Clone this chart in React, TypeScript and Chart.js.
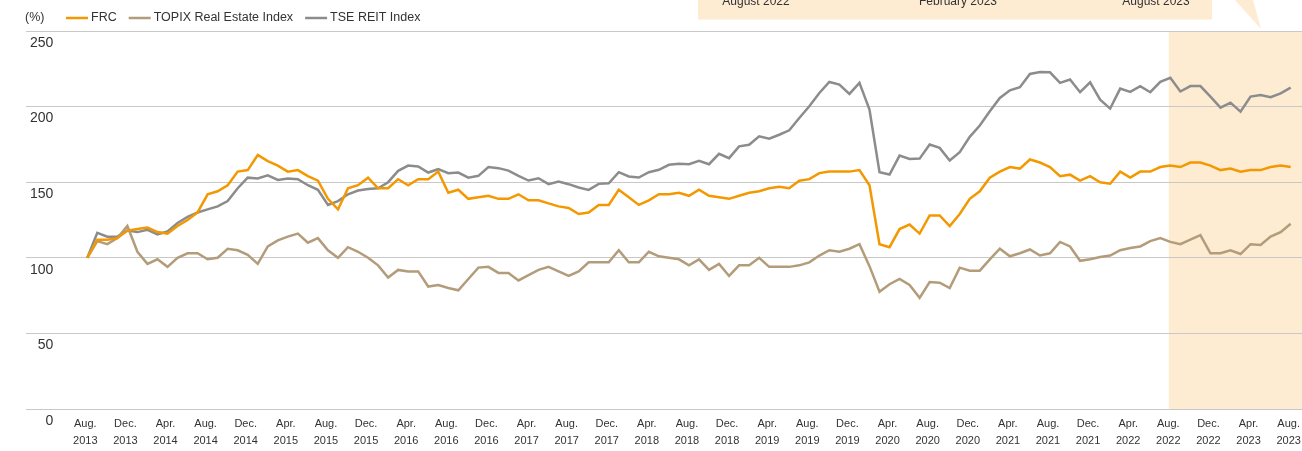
import React, { useEffect, useRef } from "react";
import { Chart, registerables } from "chart.js";

Chart.register(...registerables);

// Monthly values, Aug 2013 (index 0) to Aug 2023 (index 120), Aug 2013 = 100
const frcValues = [
  100, 112, 112, 113, 118, 119, 120, 117, 116, 121, 125, 130, 142, 144, 148, 157, 158, 168, 164, 161,
  157, 158, 154, 151, 139, 132, 146, 148, 153, 146, 146, 152, 148, 152, 152, 157, 143, 145, 139, 140,
  141, 139, 139, 142, 138, 138, 136, 134, 133, 129, 130, 135, 135, 145, 140, 135, 138, 142, 142, 143,
  141, 145, 141, 140, 139, 141, 143, 144, 146, 147, 146, 151, 152, 156, 157, 157, 157, 158, 148, 109,
  107, 119, 122, 116, 128, 128, 121, 129, 139, 144, 153, 157, 160, 159, 165, 163, 160, 154, 155, 151,
  154, 150, 149, 157, 153, 157, 157, 160, 161, 160, 163, 163, 161, 158, 159, 157, 158, 158, 160, 161,
  160,
];

const topixValues = [
  100, 111, 109, 113, 121, 104, 96, 99, 94, 100, 103, 103, 99, 100, 106, 105, 102, 96, 107.5, 111.5,
  114, 116, 110, 113, 105, 100, 107, 104, 100, 95, 87, 92, 91, 91, 81, 82, 80, 78.5, 86, 93.5,
  94, 90, 90, 85, 88.5, 92, 94, 91, 88, 91, 97, 97, 97, 105, 97, 97, 104, 101, 100, 99,
  95, 99, 92, 96, 88, 95, 95, 100, 94, 94, 94, 95, 97, 101.5, 105, 104, 106, 109, 94.5, 77.5,
  82.5, 86, 82, 73.5, 84, 83.5, 80, 93.5, 91.5, 91.5, 99, 106, 101, 103, 105.5, 101.5, 103, 110.5, 107.5, 98,
  99, 100.5, 101.5, 105, 106.5, 107.5, 111, 113, 110.5, 109, 112, 115, 103, 103, 105, 102.5, 109, 108.5, 114, 117,
  122.5,
];

const tseReitValues = [
  100, 116.5, 114, 114, 118, 117, 118.5, 115.5, 117.5, 123, 127, 130, 132, 134, 137.5, 146, 153, 152.5, 154.5, 151.5,
  152.5, 152, 148, 145, 135, 137.5, 142, 144.5, 145.5, 146, 150, 157.5, 161, 160.4, 156.4, 158.6, 156, 156.4, 153, 154.2,
  160, 159.3, 157.7, 154.2, 151.1, 152.6, 148.7, 150.4, 148.7, 146.5, 144.9, 148.9, 149.3, 156.6, 153.8, 153.1, 156.6, 158.2, 161.5, 162.2,
  161.9, 164.1, 161.9, 168.8, 165.9, 173.7, 174.8, 180.3, 178.8, 181.4, 184.3, 192.5, 200.2, 209, 216.3, 214.6, 208.4, 215.7, 198, 156.6,
  155.1, 167.6, 165.4, 165.6, 174.9, 172.7, 164.3, 169.8, 180, 187.5, 196.9, 205.7, 210.8, 212.8, 221.6, 222.9, 222.7, 215.7, 217.9, 209.5,
  216.1, 204.6, 198.7, 211.9, 209.7, 213.5, 209.5, 216.4, 219.1, 210, 213.6, 213.6, 206.6, 199.3, 202.6, 196.7, 206.6, 207.7, 206.2, 208.8,
  212.6,
];

const seriesNames = ["FRC", "TOPIX Real Estate Index", "TSE REIT Index"];
const seriesColors = ["#f39800", "#b39c7a", "#8c8c8c"];

// x-axis tick labels, one every 4 months starting Aug 2013
const xTickLabels = [
  "Aug. 2013", "Dec. 2013", "Apr. 2014", "Aug. 2014", "Dec. 2014", "Apr. 2015", "Aug. 2015", "Dec. 2015",
  "Apr. 2016", "Aug. 2016", "Dec. 2016", "Apr. 2017", "Aug. 2017", "Dec. 2017", "Apr. 2018", "Aug. 2018",
  "Dec. 2018", "Apr. 2019", "Aug. 2019", "Dec. 2019", "Apr. 2020", "Aug. 2020", "Dec. 2020", "Apr. 2021",
  "Aug. 2021", "Dec. 2021", "Apr. 2022", "Aug. 2022", "Dec. 2022", "Apr. 2023", "Aug. 2023",
];
const xTickStep = 4;
const yTickValues = [0, 50, 100, 150, 200, 250];
const unitLabel = "(%)";
const highlightStartIndex = 108; // Aug 2022
const calloutLabels = ["August 2022", "February 2023", "August 2023"];

const BEIGE = "#fdebd2";
const TEXT = "#333333";
const FONT = '"Liberation Sans", Arial, Helvetica, sans-serif';

const decorPlugin = {
  id: "decor",
  beforeDraw(chart: any) {
    const { ctx, chartArea, scales } = chart;
    const xs = scales.x;
    ctx.save();
    // highlighted period
    const x0 = xs.getPixelForValue(highlightStartIndex) - 1.5;
    ctx.fillStyle = BEIGE;
    ctx.fillRect(x0, chartArea.top + 1, chartArea.right - x0, chartArea.bottom - chartArea.top - 1);
    // callout box at top (cropped)
    ctx.fillRect(698, 0, 514, 19.5);
    ctx.beginPath();
    ctx.moveTo(1235, 0);
    ctx.lineTo(1253, 0);
    ctx.lineTo(1261, 29);
    ctx.closePath();
    ctx.fill();
    ctx.fillStyle = TEXT;
    ctx.font = "12px " + FONT;
    ctx.textAlign = "center";
    ctx.textBaseline = "alphabetic";
    const cx = [756, 958, 1156];
    calloutLabels.forEach((t, i) => ctx.fillText(t, cx[i], 4.5));
    // legend
    ctx.font = "12.5px " + FONT;
    ctx.textAlign = "left";
    ctx.textBaseline = "middle";
    ctx.fillText(unitLabel, 25, 18);
    let x = 66;
    chart.data.datasets.forEach((ds: any) => {
      ctx.strokeStyle = ds.borderColor;
      ctx.lineWidth = 2.5;
      ctx.beginPath();
      ctx.moveTo(x, 18);
      ctx.lineTo(x + 22, 18);
      ctx.stroke();
      ctx.fillStyle = TEXT;
      ctx.fillText(ds.label, x + 25, 18);
      x = x + 25 + ctx.measureText(ds.label).width + 12;
    });
    ctx.restore();
  },
};

export default function App() {
  const canvasRef = useRef<HTMLCanvasElement | null>(null);

  useEffect(() => {
    if (!canvasRef.current) return;
    const series = [frcValues, topixValues, tseReitValues];
    const chart = new Chart(canvasRef.current, {
      type: "line",
      data: {
        datasets: series.map((vals, k) => ({
          label: seriesNames[k],
          data: vals.map((v, i) => ({ x: i, y: v })),
          borderColor: seriesColors[k],
          backgroundColor: seriesColors[k],
          borderWidth: 2.5,
          pointRadius: 0,
          tension: 0,
          fill: false,
        })),
      },
      options: {
        animation: false,
        responsive: true,
        maintainAspectRatio: false,
        layout: { padding: { top: 31, left: 26, right: 0, bottom: 0 } },
        plugins: {
          legend: { display: false },
          tooltip: { enabled: false },
        },
        scales: {
          x: {
            type: "linear",
            bounds: "data",
            min: -6.11,
            max: 121.13,
            grid: { display: false, drawTicks: false },
            border: { display: false },
            afterBuildTicks: (scale: any) => {
              scale.ticks = xTickLabels.map((_, k) => ({ value: k * xTickStep }));
            },
            afterFit: (scale: any) => {
              scale.height = 42;
              scale.paddingLeft = 0;
              scale.paddingRight = 0;
            },
            ticks: {
              autoSkip: false,
              maxRotation: 0,
              minRotation: 0,
              padding: 6,
              labelOffset: -2,
              color: TEXT,
              font: { family: FONT, size: 11, lineHeight: 1.55 },
              callback: (v: any) => {
                const idx = Math.round(Number(v) / xTickStep);
                const lbl = xTickLabels[idx];
                return lbl ? lbl.split(" ") : "";
              },
            },
          },
          y: {
            min: 0,
            max: 250,
            afterBuildTicks: (scale: any) => {
              scale.ticks = yTickValues.map((v) => ({ value: v }));
            },
            afterFit: (scale: any) => {
              scale.width = 0;
              scale.paddingTop = 0;
              scale.paddingBottom = 0;
            },
            grid: { color: "#c8c8c8", lineWidth: 1, drawTicks: false },
            border: { display: false },
            ticks: {
              mirror: true,
              crossAlign: "far",
              padding: 4,
              labelOffset: 12,
              color: TEXT,
              font: { family: FONT, size: 14 },
            },
          },
        },
      },
      plugins: [decorPlugin],
    });
    return () => chart.destroy();
  }, []);

  return (
    <div style={{ position: "absolute", left: 0, top: 0, width: 1302, height: 451, background: "#fff" }}>
      <canvas ref={canvasRef} />
    </div>
  );
}
